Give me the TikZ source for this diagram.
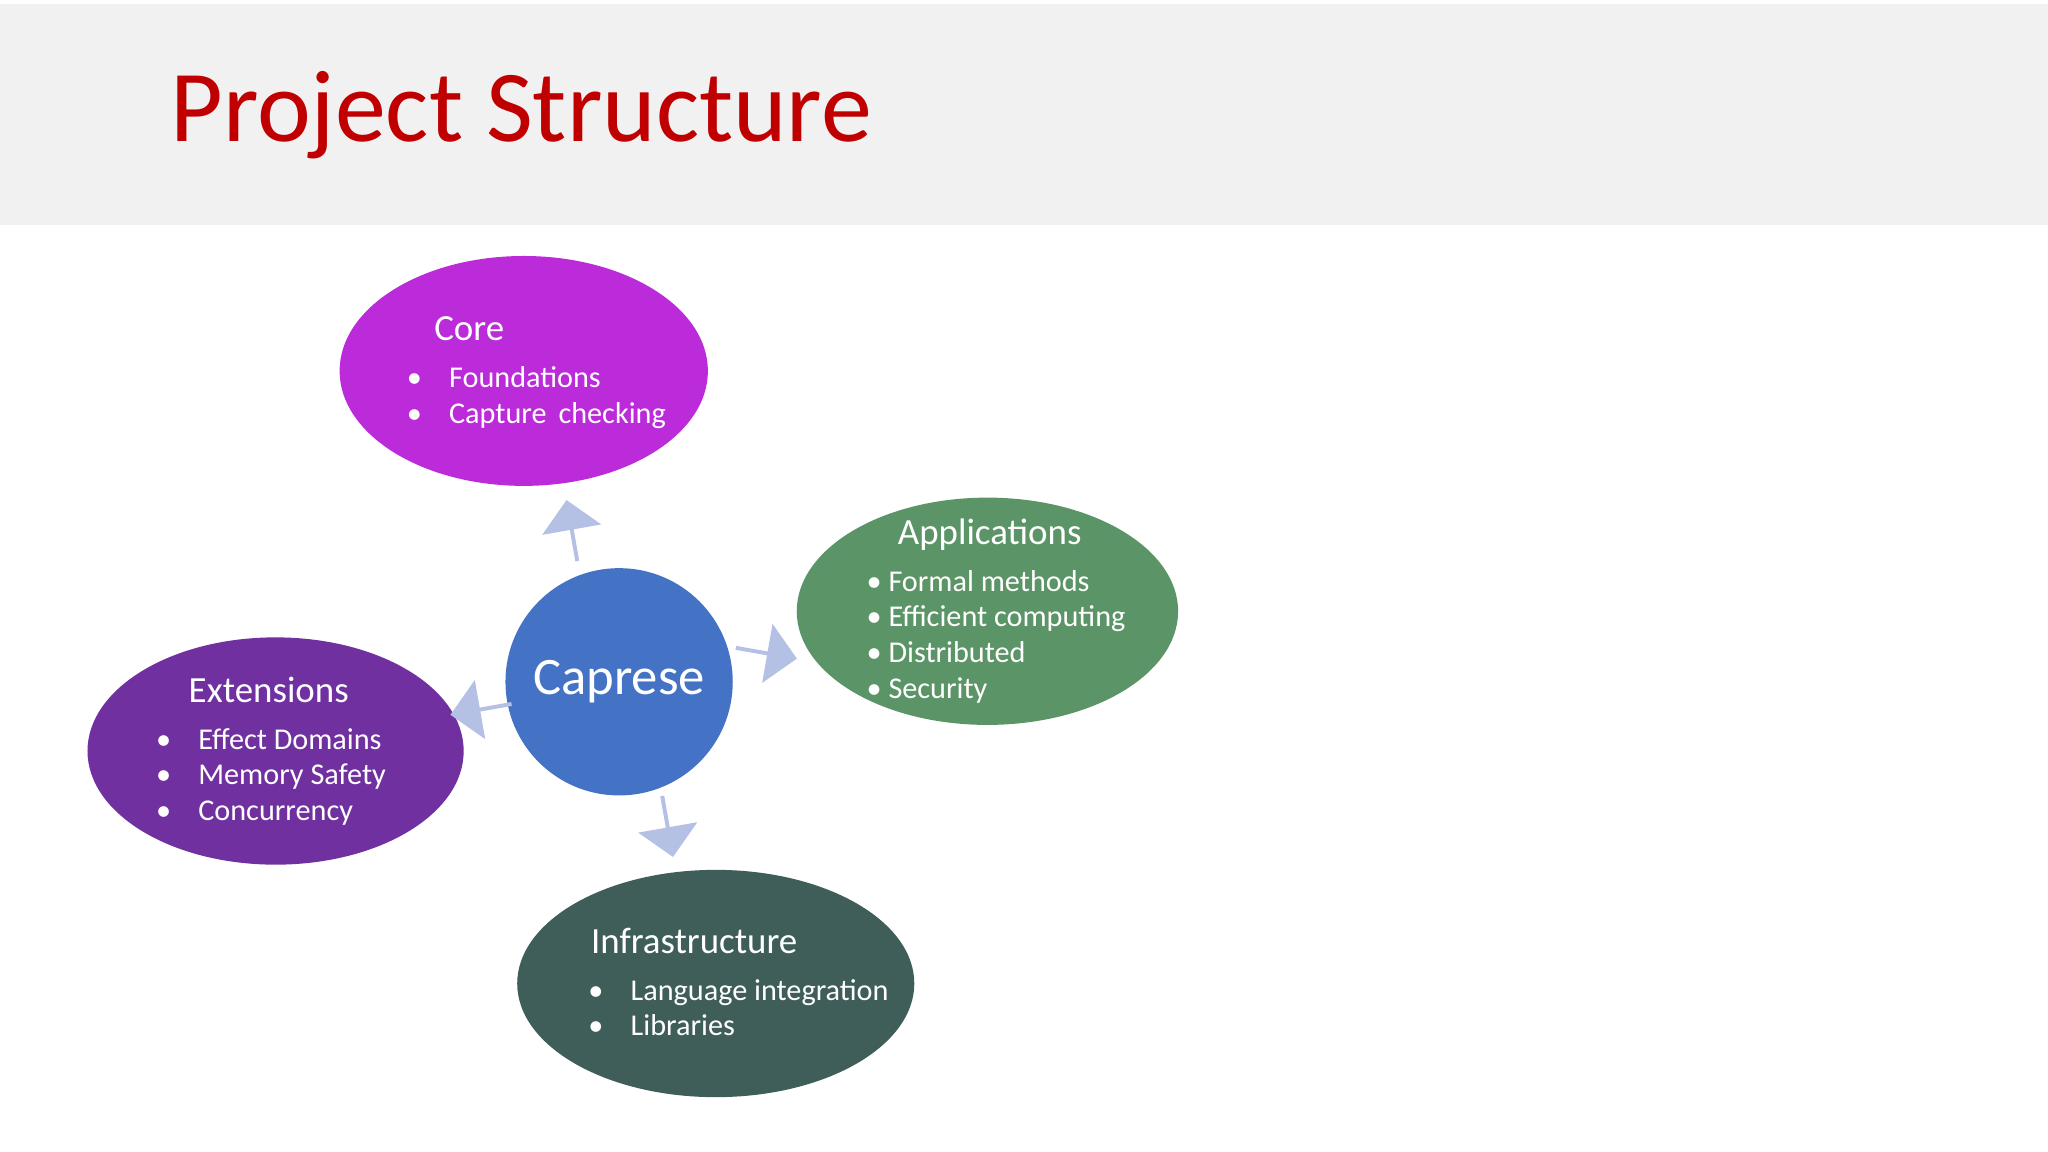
\documentclass[tikz,border=0pt]{standalone}
\usepackage{fontspec}
\setmainfont{Carlito}
\usetikzlibrary{shapes.arrows}
\definecolor{hdr}{HTML}{F2F1F2}
\definecolor{ttl}{HTML}{C00000}
\definecolor{corec}{HTML}{BB2BDA}
\definecolor{appc}{HTML}{5B9567}
\definecolor{extc}{HTML}{7030A0}
\definecolor{infc}{HTML}{3F5E5A}
\definecolor{capc}{HTML}{4472C4}
\definecolor{arrc}{HTML}{B4C0E4}
\tikzset{
 blob/.style={ellipse, draw=none, inner sep=0pt},
 head/.style={anchor=base west, text=white, font=\fontsize{10.5}{12}\selectfont},
 item/.style={anchor=base west, text=white, font=\fontsize{8.6}{10}\selectfont},
 blk/.style={single arrow, fill=arrc, draw=none, minimum height=0.62cm, minimum width=0.6cm, single arrow head extend=0.1cm, inner sep=0pt}
}
\usetikzlibrary{shapes.geometric}
\begin{document}
\begin{tikzpicture}[x=0.013061cm,y=-0.013061cm]
\useasboundingbox (0,0) rectangle (1568,882);
\fill[white] (0,0) rectangle (1568,882);
\fill[hdr] (0,3) rectangle (1568,172);
\node[anchor=base west, text=ttl, font=\fontsize{29}{34}\selectfont, inner sep=0pt] (title) at (130,108) {Project Structure};
% ellipses
\node[blob, fill=corec, minimum width=282\pgflinewidth*0+3.683cm, minimum height=2.299cm] (core) at (401,284) {};
\node[blob, fill=appc, minimum width=3.814cm, minimum height=2.273cm] (app) at (756,468) {};
\node[blob, fill=extc, minimum width=3.762cm, minimum height=2.273cm] (ext) at (211,575) {};
\node[blob, fill=infc, minimum width=3.971cm, minimum height=2.273cm] (inf) at (548,753) {};
\node[circle, fill=capc, minimum size=2.273cm, inner sep=0pt, text=white, font=\fontsize{15}{18}\selectfont] (cap) at (474,522) {Caprese};
% arrows
\node[blk, rotate=100] (a1) at (438,407) {};
\node[blk, rotate=-10] (a2) at (586,500) {};
\node[blk, rotate=-80] (a3) at (511,632) {};
\node[blk, rotate=190] (a4) at (369,543) {};
% Core text
\node[head] (coreh) at (323,261) {Core};
\node[item] (c1) at (302,297) {•\hspace{0.9em}Foundations};
\node[item] (c2) at (302,324) {•\hspace{0.9em}Capture\, checking};
% Applications
\node[head] (apph) at (678,417) {Applications};
\node[item] (p1) at (654,453) {• Formal methods};
\node[item] (p2) at (654,480) {• Efficient computing};
\node[item] (p3) at (654,507) {• Distributed};
\node[item] (p4) at (654,535) {• Security};
% Extensions
\node[head] (exth) at (135,538) {Extensions};
\node[item] (e1) at (110,574) {•\hspace{0.9em}Effect Domains};
\node[item] (e2) at (110,601) {•\hspace{0.9em}Memory Safety};
\node[item] (e3) at (110,628) {•\hspace{0.9em}Concurrency};
% Infrastructure
\node[head] (infh) at (443,730) {Infrastructure};
\node[item] (i1) at (441,766) {•\hspace{0.9em}Language integration};
\node[item] (i2) at (441,793) {•\hspace{0.9em}Libraries};
\end{tikzpicture}
\end{document}
